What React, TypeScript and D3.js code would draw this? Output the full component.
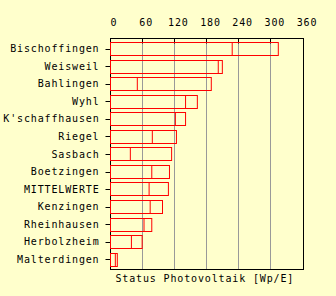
import React from "react";
import * as d3 from "d3";

const categories = [
  "Bischoffingen",
  "Weisweil",
  "Bahlingen",
  "Wyhl",
  "K'schaffhausen",
  "Riegel",
  "Sasbach",
  "Boetzingen",
  "MITTELWERTE",
  "Kenzingen",
  "Rheinhausen",
  "Herbolzheim",
  "Malterdingen",
];
const innerValues = [227, 201, 50, 140, 121, 78, 37, 77, 72, 74, 62.5, 39, 9];
const outerValues = [313, 208.6, 188, 162, 140, 123, 114, 110, 108, 97, 77, 59, 12.7];
const xTicks = [0, 60, 120, 180, 240, 300, 360];
const axisTitle = "Status Photovoltaik [Wp/E]";

const W = 336;
const H = 296;
const left = 110.5;
const right = 303.5;
const top = 38.5;
const bottom = 269.5;

export default function App() {
  const x = d3.scaleLinear().domain([0, 360]).range([left, right]);
  const y = d3
    .scaleBand<string>()
    .domain(categories)
    .range([top, bottom])
    .paddingInner(0.24)
    .paddingOuter(0.2);
  const bw = y.bandwidth();
  const font = "'DejaVu Sans Mono', monospace";
  return (
    <svg
      width={W}
      height={H}
      style={{ position: "fixed", left: 0, top: 0, display: "block" }}
    >
      <rect x={0} y={0} width={W} height={H} fill="#ffffcc" />
      {xTicks
        .filter((t) => t > 0 && t < 360)
        .map((t) => (
          <line
            key={"g" + t}
            x1={Math.round(x(t)) - 0.5}
            x2={Math.round(x(t)) - 0.5}
            y1={top}
            y2={bottom}
            stroke="#999999"
          />
        ))}
      {xTicks
        .filter((t) => t > 0 && t < 360)
        .map((t) => (
          <line
            key={"t" + t}
            x1={Math.round(x(t)) - 0.5}
            x2={Math.round(x(t)) - 0.5}
            y1={top}
            y2={top + 5}
            stroke="#000"
          />
        ))}
      <rect
        x={left}
        y={top}
        width={right - left}
        height={bottom - top}
        fill="none"
        stroke="#000"
      />
      {xTicks.map((t) => (
        <text
          key={"l" + t}
          x={x(t) + 3.5}
          y={25.5}
          textAnchor="middle"
          fontFamily={font}
          fontSize={10}
          letterSpacing={0.85}
          fill="#000"
        >
          {t}
        </text>
      ))}
      {categories.map((c) => {
        const cy = (y(c) as number) + bw / 2;
        return (
          <g key={c}>
            <line
              x1={left - 5}
              x2={left}
              y1={Math.round(cy) + 0.5}
              y2={Math.round(cy) + 0.5}
              stroke="#000"
            />
            <text
              x={99.5}
              y={cy}
              dy="0.35em"
              textAnchor="end"
              fontFamily={font}
              fontSize={10}
              letterSpacing={0.85}
              fill="#000"
            >
              {c}
            </text>
          </g>
        );
      })}
      {categories.map((c, i) => {
        const by = Math.round(y(c) as number) + 0.5;
        const h = Math.round(bw);
        return (
          <g key={"b" + c}>
            <rect
              x={left}
              y={by}
              width={x(outerValues[i]) - left}
              height={h}
              fill="none"
              stroke="#ff0000"
            />
            <rect
              x={left}
              y={by}
              width={x(innerValues[i]) - left}
              height={h}
              fill="none"
              stroke="#ff0000"
            />
          </g>
        );
      })}
      <text
        x={115.5}
        y={282}
        fontFamily={font}
        fontSize={10}
        letterSpacing={0.85}
        fill="#000"
      >
        {axisTitle}
      </text>
    </svg>
  );
}
